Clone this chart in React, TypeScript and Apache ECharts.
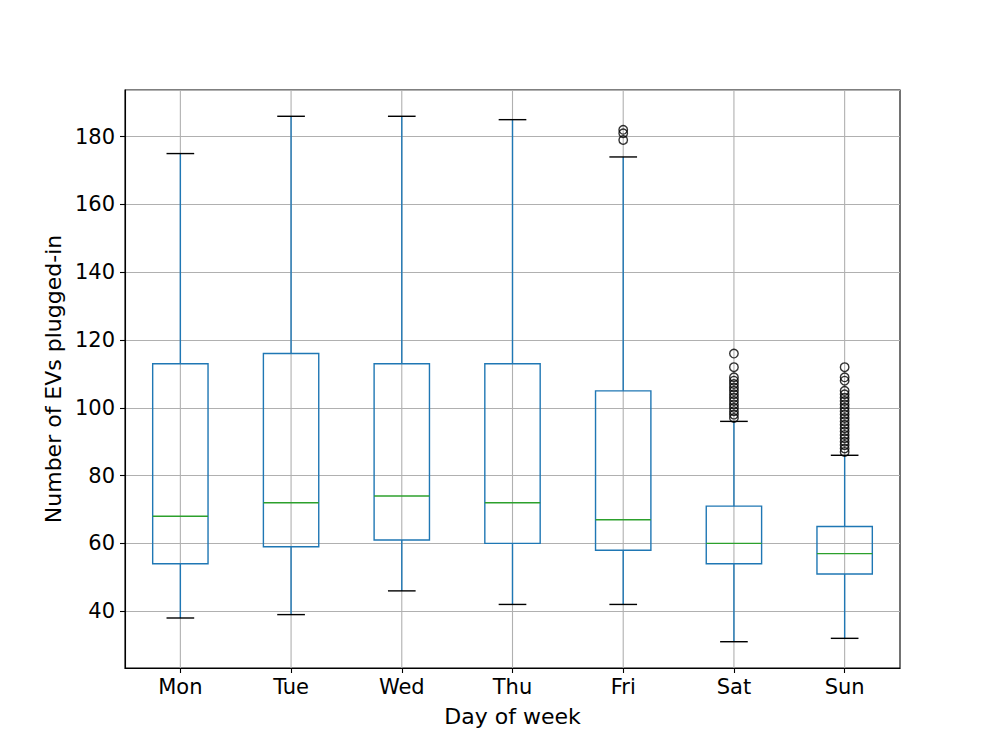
import React, { useEffect, useRef } from "react";
import * as echarts from "echarts";

const days = ["Mon", "Tue", "Wed", "Thu", "Fri", "Sat", "Sun"];
// [low whisker, Q1, median, Q3, high whisker]
const lowWhisker = [38, 39, 46, 42, 42, 31, 32];
const q1 = [54, 59, 61, 60, 58, 54, 51];
const median = [68, 72, 74, 72, 67, 60, 57];
const q3 = [113, 116, 113, 113, 105, 71, 65];
const highWhisker = [175, 186, 186, 185, 174, 96, 86];

const friOutliers = [179, 181, 182];
const satOutliers = [97, 98, 99, 100, 101, 102, 103, 104, 105, 106, 107, 108, 109, 112, 116];
const sunOutliers = [87, 88, 89, 90, 91, 92, 93, 94, 95, 96, 97, 98, 99, 100, 101, 102, 103, 104, 105, 108, 109, 112];

const yMin = 23.25;
const yMax = 193.75;

const FONT = "DejaVu Sans";

export default function App() {
  const ref = useRef<HTMLDivElement>(null);
  useEffect(() => {
    if (!ref.current) return;
    const chart = echarts.init(ref.current, undefined, { renderer: "svg" });
    const boxData = days.map((_, i) => [i, lowWhisker[i], q1[i], median[i], q3[i], highWhisker[i]]);
    const outlierData: number[][] = [];
    friOutliers.forEach((v) => outlierData.push([4, v]));
    satOutliers.forEach((v) => outlierData.push([5, v]));
    sunOutliers.forEach((v) => outlierData.push([6, v]));

    chart.setOption({
      animation: false,
      backgroundColor: "#ffffff",
      grid: {
        left: 125,
        right: 100,
        top: 90,
        bottom: 82,
        show: true,
        borderColor: "#000000",
        borderWidth: 1.1,
        backgroundColor: "transparent",
      },
      xAxis: {
        type: "category",
        data: days,
        boundaryGap: true,
        name: "Day of week",
        nameLocation: "middle",
        nameGap: 37,
        nameTextStyle: { fontFamily: FONT, fontSize: 22, color: "#000" },
        axisLine: { show: true, lineStyle: { color: "#000", width: 1.1 } },
        axisTick: { show: true, alignWithLabel: true, length: 5, lineStyle: { color: "#000", width: 1.1 } },
        axisLabel: { fontFamily: FONT, fontSize: 21, color: "#000", margin: 8 },
        splitLine: { show: false },
      },
      yAxis: {
        type: "value",
        min: yMin,
        max: yMax,
        splitNumber: 8,
        name: "Number of EVs plugged-in",
        nameLocation: "middle",
        nameGap: 60,
        nameTextStyle: { fontFamily: FONT, fontSize: 22, color: "#000" },
        axisLine: { show: true, lineStyle: { color: "#000", width: 1.1 } },
        axisTick: { show: true, length: 5, lineStyle: { color: "#000", width: 1.1 } },
        axisLabel: {
          fontFamily: FONT,
          fontSize: 21,
          color: "#000",
          margin: 10,
          showMinLabel: false,
          showMaxLabel: false,
        },
        splitLine: { show: true, lineStyle: { color: "#b0b0b0", width: 1.1 } },
      },
      series: [
        {
          type: "custom",
          data: boxData,
          encode: { x: 0, y: [1, 2, 3, 4, 5] },
          renderItem: (params: any, api: any) => {
            const idx = api.value(0);
            const pLo = api.coord([idx, api.value(1)]);
            const pQ1 = api.coord([idx, api.value(2)]);
            const pMed = api.coord([idx, api.value(3)]);
            const pQ3 = api.coord([idx, api.value(4)]);
            const pHi = api.coord([idx, api.value(5)]);
            const band = api.size([1, 0])[0];
            const bw = band * 0.5;
            const cw = bw * 0.5;
            const cx = pLo[0];
            const cs = params.coordSys;
            const blue = "#1f77b4";
            const lw = 1.4;
            return {
              type: "group",
              children: [
                {
                  type: "line",
                  shape: { x1: cx, y1: cs.y, x2: cx, y2: cs.y + cs.height },
                  style: { stroke: "#b0b0b0", lineWidth: 1.1 },
                },
                {
                  type: "line",
                  shape: { x1: cx, y1: pQ1[1], x2: cx, y2: pLo[1] },
                  style: { stroke: blue, lineWidth: lw },
                },
                {
                  type: "line",
                  shape: { x1: cx, y1: pQ3[1], x2: cx, y2: pHi[1] },
                  style: { stroke: blue, lineWidth: lw },
                },
                {
                  type: "rect",
                  shape: { x: cx - bw / 2, y: pQ3[1], width: bw, height: pQ1[1] - pQ3[1] },
                  style: { fill: "none", stroke: blue, lineWidth: lw },
                },
                {
                  type: "line",
                  shape: { x1: cx - bw / 2, y1: pMed[1], x2: cx + bw / 2, y2: pMed[1] },
                  style: { stroke: "#2ca02c", lineWidth: lw },
                },
                {
                  type: "line",
                  shape: { x1: cx - cw / 2, y1: pLo[1], x2: cx + cw / 2, y2: pLo[1] },
                  style: { stroke: "#000", lineWidth: lw },
                },
                {
                  type: "line",
                  shape: { x1: cx - cw / 2, y1: pHi[1], x2: cx + cw / 2, y2: pHi[1] },
                  style: { stroke: "#000", lineWidth: lw },
                },
              ],
            };
          },
        },
        {
          type: "scatter",
          data: outlierData,
          symbol: "circle",
          symbolSize: 8.5,
          itemStyle: { color: "rgba(0,0,0,0)", borderColor: "#000", borderWidth: 1.4 },
          z: 5,
        },
      ],
    });
    return () => chart.dispose();
  }, []);
  return (
    <div
      ref={ref}
      style={{ position: "fixed", left: 0, top: 0, width: 1000, height: 750, background: "#fff" }}
    />
  );
}
